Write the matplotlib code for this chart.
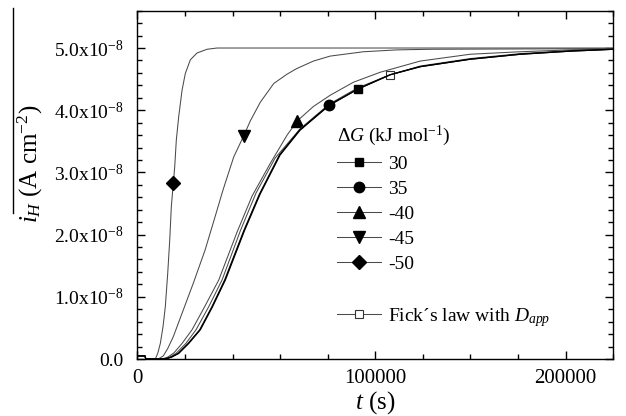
import matplotlib
matplotlib.use('Agg')
import matplotlib.pyplot as plt
from matplotlib.lines import Line2D
from matplotlib.ticker import FixedLocator, FixedFormatter, MultipleLocator, FuncFormatter

plt.rcParams['font.family'] = ['Liberation Serif', 'DejaVu Serif']
plt.rcParams['mathtext.fontset'] = 'custom'
plt.rcParams['mathtext.rm'] = 'Liberation Serif'
plt.rcParams['mathtext.it'] = 'Liberation Serif:italic'
plt.rcParams['mathtext.bf'] = 'Liberation Serif:bold'

SCALE = 1e-8  # current values below are in units of 1e-8 A cm^-2

# time (s) and permeation current for each curve
t_m50 = [0, 4000, 4500, 9460, 10720, 12090, 13510, 14710, 15980, 17030, 17870, 18920,
         19650, 20490, 21760, 23490, 25220, 27850, 31370, 36630, 41880, 250000]
i_m50 = [0.05, 0.05, 0, 0, 0.09, 0.25, 0.52, 0.84, 1.38, 1.91, 2.45, 2.83,
         3.09, 3.52, 3.90, 4.32, 4.59, 4.81, 4.92, 4.98, 5.00, 5.00]
mk_m50 = 11

t_m45 = [0, 4000, 4500, 11040, 13660, 16000, 18920, 24170, 29430, 35580, 40000, 45040, 50660, 55910,
         59380, 64640, 71680, 78670, 83770, 92490, 101270, 118760, 136310, 153820, 250000]
i_m45 = [0.05, 0.05, 0, 0, 0.05, 0.17, 0.36, 0.79, 1.22, 1.75, 2.20, 2.72, 3.25, 3.59,
         3.83, 4.13, 4.43, 4.58, 4.67, 4.79, 4.87, 4.94, 4.97, 4.98, 4.99]
mk_m45 = 13

t_m40 = [0, 4000, 4500, 12980, 16000, 19290, 23500, 28750, 35000, 42780, 52390, 60280, 69740, 78670, 84080,
         92490, 101270, 113510, 127540, 148560, 174840, 201110, 227390, 250000]
i_m40 = [0.05, 0.05, 0, 0, 0.03, 0.10, 0.25, 0.47, 0.82, 1.27, 2.04, 2.62, 3.14, 3.60, 3.83,
         4.06, 4.24, 4.45, 4.61, 4.79, 4.90, 4.94, 4.97, 4.99]
mk_m40 = 14

t_35 = [0, 4000, 4500, 14710, 18000, 21760, 27000, 33110, 39500, 46240, 56230, 64480, 74990, 85500, 100900,
        115820, 132790, 148560, 174840, 201110, 227390, 250000]
i_35 = [0.05, 0.05, 0, 0, 0.03, 0.09, 0.25, 0.47, 0.84, 1.27, 2.06, 2.65, 3.28, 3.68, 4.08,
        4.34, 4.57, 4.70, 4.82, 4.90, 4.95, 4.98]
mk_35 = 14

t_30 = [0, 4000, 4500, 14400, 17700, 21450, 26700, 32800, 39200, 45900, 55900, 64150, 74650, 85200, 100600,
        115820, 132790, 148560, 174840, 201110, 227390, 250000]
i_30 = [0.05, 0.05, 0, 0, 0.03, 0.09, 0.25, 0.47, 0.84, 1.27, 2.06, 2.65, 3.28, 3.68, 4.08,
        4.34, 4.57, 4.70, 4.82, 4.90, 4.95, 4.98]
mk_30 = 15

t_fick = [0, 4000, 4500, 13770, 17000, 20340, 25500, 30850, 37500, 44510, 54230, 62380, 72360, 85500, 100900,
          115820, 132790, 148560, 174840, 201110, 227390, 250000]
i_fick = [0.05, 0.05, 0, 0, 0.03, 0.09, 0.25, 0.47, 0.84, 1.27, 2.07, 2.67, 3.23, 3.70, 4.10,
          4.36, 4.57, 4.71, 4.83, 4.91, 4.96, 4.98]
mk_fick = 16

legend_labels = ['30', '35', '-40', '-45', '-50', ' ', 'Fick\u00b4s law with $D_{app}$']
legend_title = '\u0394$G$ (kJ mol$^{-1}$)'

x_tick_pos = [0, 125000, 225000]
x_tick_lab = ['0', '100000', '200000']

fig = plt.figure(figsize=(6.26, 4.16), dpi=100)
ax = fig.add_axes([137.3 / 626, 1 - 359 / 416, (613.3 - 137.3) / 626, (359 - 10.7) / 416])

thin = dict(color='#4a4a4a', lw=0.75)
thick = dict(color='black', lw=0.9)


def sc(v):
    return [x * SCALE for x in v]


ax.plot(t_m50, sc(i_m50), marker='D', ms=7, mfc='k', mec='k', markevery=[mk_m50], **thin)
ax.plot(t_m45, sc(i_m45), marker='v', ms=9, mfc='k', mec='k', markevery=[mk_m45], **thin)
ax.plot(t_m40, sc(i_m40), marker='^', ms=9, mfc='k', mec='k', markevery=[mk_m40], **thin)
ax.plot(t_fick, sc(i_fick), marker='s', ms=6, mfc='white', mec='#333333', mew=0.8,
        markevery=[mk_fick], **thin)
ax.plot(t_35, sc(i_35), marker='o', ms=7.5, mfc='k', mec='k', markevery=[mk_35], **thick)
ax.plot(t_30, sc(i_30), marker='s', ms=6, mfc='k', mec='k', markevery=[mk_30], **thick)

ax.set_xlim(0, 250000)
ax.set_ylim(0, 5.6e-8)

ax.xaxis.set_major_locator(FixedLocator(x_tick_pos))
ax.xaxis.set_major_formatter(FixedFormatter(x_tick_lab))
ax.xaxis.set_minor_locator(MultipleLocator(25000))
ax.yaxis.set_major_locator(MultipleLocator(1e-8))
ax.yaxis.set_minor_locator(MultipleLocator(0.2e-8))
ax.yaxis.set_major_formatter(FuncFormatter(
    lambda v, p: '0.0' if abs(v) < 1e-12 else '%.1fx10$^{-8}$' % (v / 1e-8)))

ax.tick_params(which='both', direction='in', top=True, right=True, width=1.0)
ax.tick_params(which='major', length=6)
ax.tick_params(axis='y', which='major', pad=10, labelsize=14)
ax.tick_params(axis='x', which='major', pad=7, labelsize=15)
ax.tick_params(which='minor', length=3.5)
for s in ax.spines.values():
    s.set_linewidth(1.0)

ax.set_xlabel('$t$ (s)', fontsize=18, labelpad=1)
fig.text(30 / 626, 1 - 163.5 / 416, '$i_H$ (A cm$^{-2}$)', rotation=90,
         ha='center', va='center', fontsize=18)
fig.add_artist(Line2D([13 / 626, 13 / 626], [1 - 8 / 416, 1 - 213 / 416],
                      transform=fig.transFigure, color='black', lw=1.0))

handles = [
    Line2D([], [], marker='s', ms=6, mfc='k', mec='k', **thin),
    Line2D([], [], marker='o', ms=7.5, mfc='k', mec='k', **thin),
    Line2D([], [], marker='^', ms=9, mfc='k', mec='k', **thin),
    Line2D([], [], marker='v', ms=9, mfc='k', mec='k', **thin),
    Line2D([], [], marker='D', ms=7, mfc='k', mec='k', **thin),
    Line2D([], [], ls='none'),
    Line2D([], [], marker='s', ms=6, mfc='white', mec='#333333', mew=0.8, **thin),
]
leg = ax.legend(handles, legend_labels, title=legend_title, frameon=False,
                loc='upper left', bbox_to_anchor=(0.419, 0.675), fontsize=14,
                title_fontsize=14, alignment='left', handlelength=2.3,
                handletextpad=0.35, labelspacing=0.38, borderpad=0, borderaxespad=0)

fig.savefig('out.png', dpi=100)
